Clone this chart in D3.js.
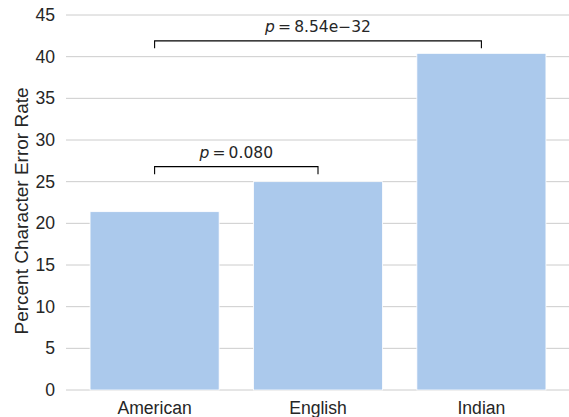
<!DOCTYPE html>
<html>
<head>
<meta charset="utf-8">
<script src="https://cdn.jsdelivr.net/npm/d3@7"></script>
<style>
  body { margin: 0; background: #fff; }
  svg { display: block; }
</style>
</head>
<body>
<div id="chart"></div>
<script>
// Data
const accents = ["American", "English", "Indian"];
const errorRates = [21.4, 25.0, 40.4];
const yTicks = [0, 5, 10, 15, 20, 25, 30, 35, 40, 45];
// significance brackets: from index, to index, level, label
const bracketFrom = [0, 0];
const bracketTo = [1, 2];
const bracketLevel = [26.8, 41.9];
const bracketLabel = ["0.080", "8.54e\u221232"];

const W = 569, H = 417;
const plot = {left: 66, right: 569, top: 15, bottom: 390};

const svg = d3.select("#chart").append("svg")
    .attr("width", W)
    .attr("height", H);

const x = d3.scaleBand()
    .domain(accents)
    .range([72.9, 563.1])
    .paddingInner(0.21)
    .paddingOuter(0.105);

const y = d3.scaleLinear()
    .domain([0, 45])
    .range([plot.bottom, plot.top]);

// Horizontal grid
svg.append("g")
    .selectAll("line")
    .data(yTicks)
    .enter().append("line")
    .attr("x1", plot.left)
    .attr("x2", plot.right)
    .attr("y1", d => y(d))
    .attr("y2", d => y(d))
    .attr("stroke", "#cccccc")
    .attr("stroke-width", 1);

// Y tick labels
svg.append("g")
    .selectAll("text")
    .data(yTicks)
    .enter().append("text")
    .attr("x", 55)
    .attr("y", d => y(d))
    .attr("dy", "0.35em")
    .attr("text-anchor", "end")
    .attr("font-family", "Liberation Sans, Arial, sans-serif")
    .attr("font-size", "17.6px")
    .attr("fill", "#262626")
    .text(d => d);

// Bars
svg.append("g")
    .selectAll("rect")
    .data(accents)
    .enter().append("rect")
    .attr("x", d => x(d))
    .attr("width", x.bandwidth())
    .attr("y", (d, i) => y(errorRates[i]))
    .attr("height", (d, i) => y(0) - y(errorRates[i]))
    .attr("fill", "#abc9ec")
    .attr("stroke", "#ffffff")
    .attr("stroke-width", 0.8);

// X tick labels
svg.append("g")
    .selectAll("text")
    .data(accents)
    .enter().append("text")
    .attr("x", d => x(d) + x.bandwidth() / 2)
    .attr("y", 414)
    .attr("text-anchor", "middle")
    .attr("font-family", "Liberation Sans, Arial, sans-serif")
    .attr("font-size", "17.6px")
    .attr("fill", "#262626")
    .text(d => d);

// Y axis label
svg.append("text")
    .attr("transform", "translate(28,211) rotate(-90)")
    .attr("text-anchor", "middle")
    .attr("font-family", "Liberation Sans, Arial, sans-serif")
    .attr("font-size", "19px")
    .attr("fill", "#262626")
    .text("Percent Character Error Rate");

// Significance brackets
const cx = d => x(accents[d]) + x.bandwidth() / 2;
const brackets = svg.append("g");
bracketLevel.forEach((lvl, i) => {
    const x1 = cx(bracketFrom[i]), x2 = cx(bracketTo[i]);
    const yTop = y(lvl), yEnd = yTop + 7.5;
    brackets.append("path")
        .attr("d", `M${x1},${yEnd}V${yTop}H${x2}V${yEnd}`)
        .attr("fill", "none")
        .attr("stroke", "#000")
        .attr("stroke-width", 1.1);
    const t = brackets.append("text")
        .attr("x", (x1 + x2) / 2)
        .attr("y", yTop - 9)
        .attr("text-anchor", "middle")
        .attr("font-family", "DejaVu Sans, sans-serif")
        .attr("font-size", "15.5px")
        .attr("fill", "#262626");
    t.append("tspan").attr("font-style", "italic").text("p");
    t.append("tspan").text("\u2009=\u2009" + bracketLabel[i]);
});
</script>
</body>
</html>
